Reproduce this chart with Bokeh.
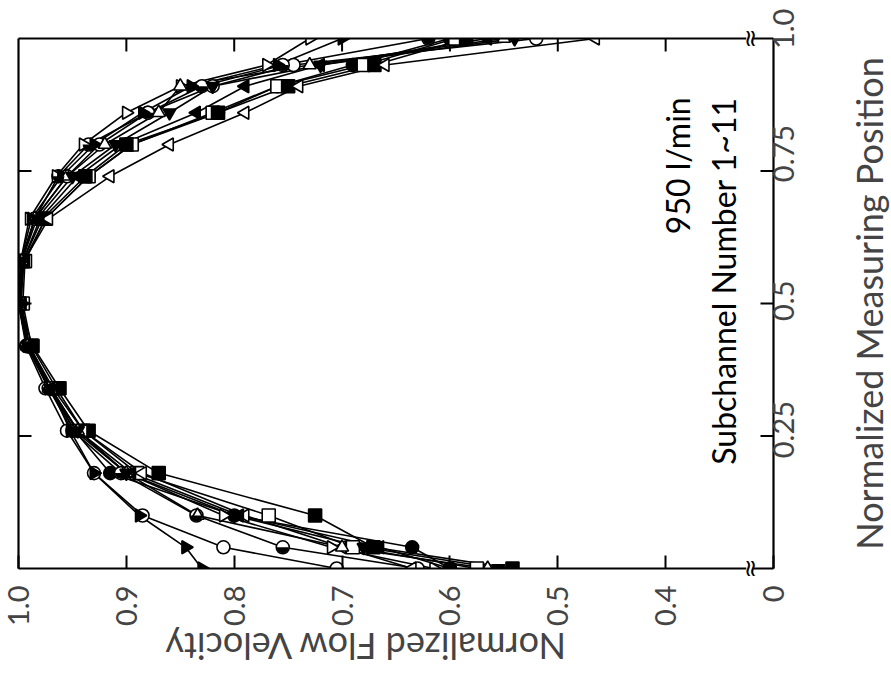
import math
from bokeh.plotting import figure
from bokeh.layouts import row
from bokeh.models import Range1d, LinearAxis, FixedTicker, Title
from bokeh.core.properties import value
from bokeh.embed import file_html
from bokeh.resources import INLINE

# ---------------- data ----------------
# normalized measuring position of the points
positions = [0.0, 0.04, 0.10, 0.18, 0.26, 0.34, 0.42, 0.50, 0.58, 0.66, 0.74, 0.80, 0.86, 0.91, 0.95, 1.0]

# normalized flow velocity, one list per subchannel
sc_open_circle   = [0.705, 0.810, 0.885, 0.930, 0.955, 0.975, 0.993, 1.000, 0.997, 0.985, 0.955, 0.925, 0.880, 0.820, 0.745, 0.520]
sc_filled_circle = [0.600, 0.635, 0.800, 0.915, 0.948, 0.970, 0.990, 0.998, 0.995, 0.975, 0.935, 0.895, 0.815, 0.760, 0.690, 0.600]
sc_half_circle   = [0.630, 0.755, 0.835, 0.905, 0.950, 0.972, 0.992, 1.000, 0.998, 0.985, 0.963, 0.935, 0.880, 0.830, 0.755, 0.620]
sc_open_square   = [0.575, 0.690, 0.768, 0.890, 0.940, 0.965, 0.988, 0.996, 0.994, 0.975, 0.935, 0.895, 0.820, 0.760, 0.680, 0.595]
sc_filled_square = [0.542, 0.671, 0.725, 0.870, 0.935, 0.962, 0.987, 0.999, 0.996, 0.978, 0.938, 0.900, 0.815, 0.750, 0.670, 0.585]
sc_open_left     = [0.635, 0.700, 0.790, 0.885, 0.940, 0.968, 0.990, 0.998, 0.995, 0.972, 0.915, 0.860, 0.790, 0.740, 0.660, 0.465]
sc_filled_left   = [0.600, 0.665, 0.795, 0.895, 0.945, 0.970, 0.990, 1.000, 0.996, 0.980, 0.945, 0.905, 0.835, 0.790, 0.720, 0.565]
sc_open_right    = [0.615, 0.710, 0.810, 0.900, 0.948, 0.972, 0.992, 1.000, 0.998, 0.990, 0.965, 0.940, 0.900, 0.850, 0.770, 0.730]
sc_filled_right  = [0.830, 0.845, 0.888, 0.930, 0.952, 0.970, 0.990, 0.997, 0.998, 0.988, 0.960, 0.930, 0.885, 0.840, 0.760, 0.700]
sc_open_up       = [0.565, 0.700, 0.834, 0.900, 0.945, 0.972, 0.992, 1.000, 0.997, 0.985, 0.955, 0.920, 0.870, 0.850, 0.730, 0.550]
sc_filled_down   = [0.555, 0.680, 0.800, 0.900, 0.945, 0.970, 0.991, 0.999, 0.997, 0.983, 0.950, 0.910, 0.860, 0.820, 0.720, 0.540]

velocity_ticks = [1.0, 0.9, 0.8, 0.7, 0.6, 0.5, 0.4]
velocity_tick_labels = ["1.0", "0.9", "0.8", "0.7", "0.6", "0.5", "0.4"]
velocity_zero_label = "0"
position_ticks = [0.0, 0.25, 0.5, 0.75, 1.0]
position_tick_labels = ["0", "0.25", "0.5", "0.75", "1.0"]
# rotated labels start at their anchor, so the anchors sit a little below each tick
position_label_shift = [0.006, 0.042, 0.033, 0.021, 0.020]

x_title = "Normalized Flow Velocity"
y_title = "Normalized Measuring Position"
note_rate = "950 l/min"
note_channels = "Subchannel Number 1~11"

# the velocity axis is broken between 0.4 and 0; 0 is drawn one step further on
ZERO_AT = 0.3
BREAK_AT = 0.322
# anchor of the upside-down velocity-axis title (its visual left end)
X_TITLE_AT = 0.8656

FONT = "Lato"
W_MAIN = 821
W_SIDE = 891 - W_MAIN
BORDER_TOP = 38
BORDER_BOTTOM = 127

p = figure(width=W_MAIN, height=695, x_range=Range1d(1.0, ZERO_AT), y_range=Range1d(0.0, 1.0),
           output_backend="svg", toolbar_location=None,
           x_axis_location=None, y_axis_location=None,
           min_border_left=18, min_border_right=48,
           min_border_top=BORDER_TOP, min_border_bottom=BORDER_BOTTOM)
p.grid.visible = False
p.outline_line_color = None
p.background_fill_color = "white"


def styled_axis(ticks, labels, size="29px", orient=math.pi / 2):
    ax = LinearAxis(ticker=FixedTicker(ticks=ticks),
                    major_label_overrides={t: l for t, l in zip(ticks, labels)})
    ax.major_tick_in = 13
    ax.major_tick_out = 0
    ax.minor_tick_line_color = None
    ax.axis_line_width = 2.2
    ax.major_tick_line_width = 2
    ax.major_label_text_font = FONT
    ax.major_label_text_font_size = size
    ax.major_label_orientation = orient
    return ax


xb = styled_axis(velocity_ticks + [ZERO_AT], velocity_tick_labels + [velocity_zero_label])
xb.major_label_standoff = 17
p.add_layout(xb, "below")

# axis title of the velocity axis (upside down, as in the rotated original)
xt = styled_axis([X_TITLE_AT], [x_title], size="36px", orient=math.pi)
xt.axis_line_color = None
xt.major_tick_line_color = None
xt.major_label_standoff = 18
p.add_layout(xt, "below")

# right axis: frame line + labels (ticks drawn as inward marks below)
label_pos = [t - s for t, s in zip(position_ticks, position_label_shift)]
yr = styled_axis(label_pos, position_tick_labels)
yr.major_tick_line_color = None
yr.major_label_standoff = 10
p.add_layout(yr, "right")

# plain frame lines on the other two sides
for side_name in ("above", "left"):
    ax = LinearAxis(ticker=FixedTicker(ticks=[]), axis_line_width=2.2,
                    minor_tick_line_color=None, major_tick_line_color=None)
    p.add_layout(ax, side_name)

# inward ticks on top, left and right (outer half is clipped by the frame)
p.scatter(x=velocity_ticks[1:], y=[1.0] * (len(velocity_ticks) - 1), marker="dash", size=26,
          angle=math.pi / 2, line_color="black", line_width=2)
inner_pos = position_ticks[1:-1]
p.scatter(x=[1.0] * len(inner_pos), y=inner_pos, marker="dash", size=26,
          line_color="black", line_width=2)
p.scatter(x=[ZERO_AT] * len(inner_pos), y=inner_pos, marker="dash", size=26,
          line_color="black", line_width=2)

# axis break marks
for yy in (0.0, 1.0):
    p.rect(x=[BREAK_AT], y=[yy], width=7, height=14, width_units="screen", height_units="screen",
           fill_color="white", line_color=None, level="overlay")
    p.text(x=[BREAK_AT], y=[yy], text=["≈"], angle=math.pi / 2, text_align="center",
           text_baseline="middle", text_font_size="24px", text_font=value("DejaVu Sans"),
           text_color="black", level="overlay")

# ---------------- series ----------------
specs = [
    (sc_open_circle,   "circle",   "white", 0.0),
    (sc_filled_circle, "circle",   "black", 0.0),
    (sc_half_circle,   "circle",   "white", 0.0),
    (sc_open_square,   "square",   "white", 0.0),
    (sc_filled_square, "square",   "black", 0.0),
    (sc_open_left,     "triangle", "white", math.pi / 2),
    (sc_filled_left,   "triangle", "black", math.pi / 2),
    (sc_open_right,    "triangle", "white", -math.pi / 2),
    (sc_filled_right,  "triangle", "black", -math.pi / 2),
    (sc_open_up,       "triangle", "white", 0.0),
    (sc_filled_down,   "inverted_triangle", "black", 0.0),
]

for vals, *_ in specs:
    p.line(x=vals, y=positions, line_color="black", line_width=1.6)

for vals, marker, fill, ang in specs:
    p.scatter(x=vals, y=positions, marker=marker, size=13, angle=ang,
              fill_color=fill, line_color="black", line_width=1.6)

p.wedge(x=sc_half_circle, y=positions, radius=6, radius_units="screen",
        start_angle=math.pi, end_angle=2 * math.pi, fill_color="black", line_color=None)

# ---------------- notes inside the plot ----------------
p.text(x=[0.389], y=[0.889], text=[note_rate], angle=math.pi / 2,
       text_align="right", text_baseline="middle",
       text_font=value(FONT), text_font_size="32px", text_color="black")
p.text(x=[0.346], y=[0.889], text=[note_channels], angle=math.pi / 2,
       text_align="right", text_baseline="middle",
       text_font=value(FONT), text_font_size="32px", text_color="black")

# ---------------- title of the position axis (strip at the right) ----------------
side = figure(width=W_SIDE, height=695, output_backend="svg", toolbar_location=None,
              x_axis_location=None, y_axis_location=None,
              min_border_left=W_SIDE - 1, min_border_right=0,
              min_border_top=BORDER_TOP, min_border_bottom=BORDER_BOTTOM)
side.grid.visible = False
side.outline_line_color = None
side.scatter(x=[0], y=[0], size=0, alpha=0)
side.add_layout(Title(text=y_title, align="center", text_font=FONT, text_font_size="36px",
                      text_font_style="normal", standoff=0, offset=20), "left")

open("out.html", "w").write(file_html(row(p, side, spacing=0), INLINE))
